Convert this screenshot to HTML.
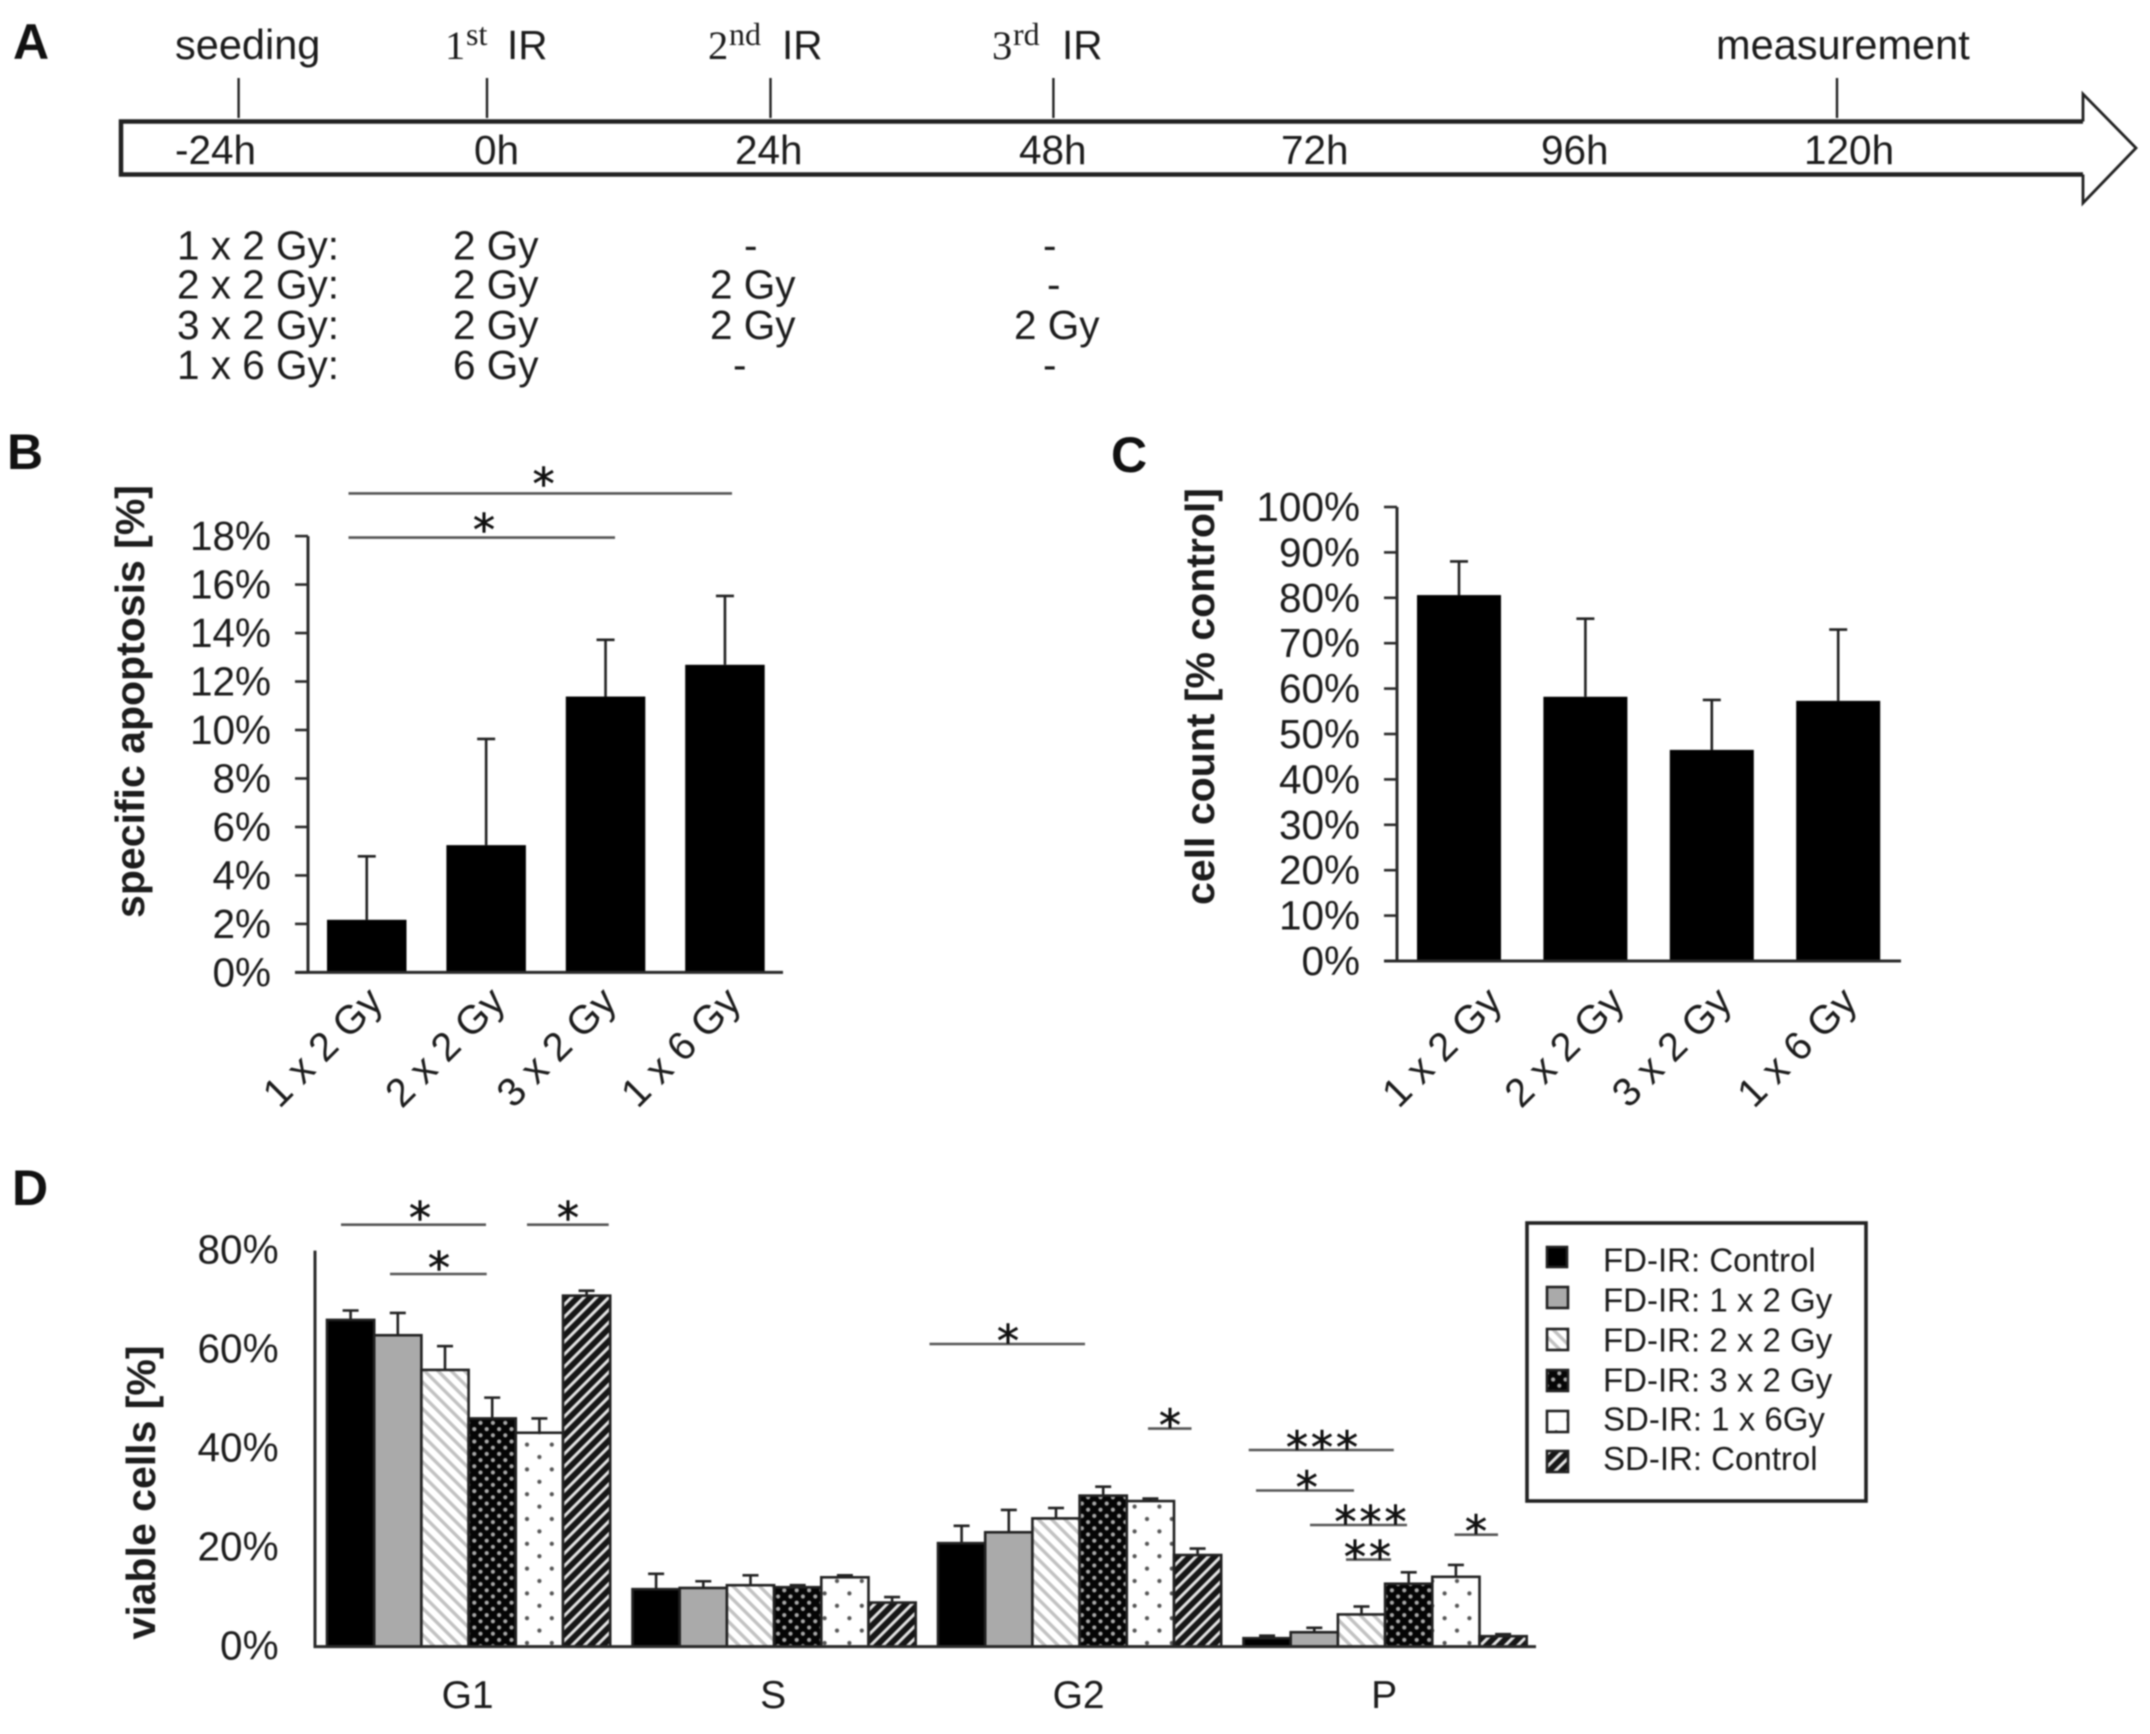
<!DOCTYPE html>
<html lang="en">
<head>
<meta charset="utf-8">
<title>Irradiation schedule and cell response charts</title>
<style>
html,body{margin:0;padding:0;background:#fff;width:2150px;height:1734px;overflow:hidden}
svg{display:block;filter:blur(0.8px)}
text{font-family:"Liberation Sans",sans-serif;fill:#1c1c1c}
.t40{font-size:40.5px}
.panel{font-size:50px;font-weight:bold;fill:#111}
.serif{font-family:"Liberation Serif",serif}
.star{font-family:"DejaVu Sans",sans-serif;font-size:44px;text-anchor:middle;fill:#111;stroke:#111;stroke-width:0.6;transform:translateY(4px)}
.sig{stroke:#555;stroke-width:2.6}
.leg{font-size:33px}
.sw{stroke:#222;stroke-width:2.6}
</style>
</head>
<body>
<svg id="figure" xmlns="http://www.w3.org/2000/svg" width="2150" height="1734" viewBox="0 0 2150 1734">
<defs>
<pattern id="p-light" width="9.4" height="9.4" patternUnits="userSpaceOnUse" patternTransform="rotate(45)"><rect width="9.4" height="9.4" fill="#fff"/><rect width="9.4" height="3.4" fill="#c2c2c2"/></pattern>
<pattern id="p-stripes" width="8.8" height="8.8" patternUnits="userSpaceOnUse" patternTransform="rotate(-45)"><rect width="8.8" height="8.8" fill="#161616"/><rect width="8.8" height="3" fill="#e2e2e2"/></pattern>
<pattern id="p-dots-dark" width="12.4" height="12.4" patternUnits="userSpaceOnUse"><rect width="12.4" height="12.4" fill="#050505"/><circle cx="3.1" cy="3.1" r="2.1" fill="#a8a8a8"/><circle cx="9.3" cy="9.3" r="2.1" fill="#a8a8a8"/></pattern>
<pattern id="p-dots-light" width="24.8" height="24.8" patternUnits="userSpaceOnUse"><rect width="24.8" height="24.8" fill="#fff"/><circle cx="6.2" cy="6.2" r="2.1" fill="#555"/><circle cx="18.6" cy="18.6" r="2.1" fill="#555"/></pattern>
</defs>
<rect width="2150" height="1734" fill="#fff"/>

<!-- Panel A -->
<g>
<text class="panel" x="13" y="59">A</text>
<path d="M2083 121.5V94L2136 148L2083 203V174.5" fill="#fff" stroke="#222" stroke-width="2.8"/>
<path d="M2083 121.5H121V174.5H2083" fill="#fff" stroke="#222" stroke-width="4.5"/>
<g stroke="#222" stroke-width="2.4">
<line x1="238.6" x2="238.6" y1="78" y2="118"/>
<line x1="487" x2="487" y1="78" y2="118"/>
<line x1="770.5" x2="770.5" y1="78" y2="118"/>
<line x1="1053.4" x2="1053.4" y1="78" y2="118"/>
<line x1="1837" x2="1837" y1="78" y2="118"/>
</g>
<g class="t40">
<text x="175" y="59" font-size="41.5">seeding</text>
<text x="445" y="59" class="serif">1</text>
<text x="466" y="45" class="serif" font-size="32">st</text>
<text x="507" y="59">IR</text>
<text x="708" y="59" class="serif">2</text>
<text x="729" y="45" class="serif" font-size="32">nd</text>
<text x="782" y="59">IR</text>
<text x="992" y="59" class="serif">3</text>
<text x="1013" y="45" class="serif" font-size="32">rd</text>
<text x="1062" y="59">IR</text>
<text x="1716" y="59" font-size="41.5">measurement</text>
<text x="175" y="164">-24h</text>
<text x="474" y="164">0h</text>
<text x="735" y="164">24h</text>
<text x="1019" y="164">48h</text>
<text x="1281" y="164">72h</text>
<text x="1541" y="164">96h</text>
<text x="1804" y="164">120h</text>

<text x="177" y="259.5">1 x 2 Gy:</text>
<text x="177" y="298.5">2 x 2 Gy:</text>
<text x="177" y="339">3 x 2 Gy:</text>
<text x="177" y="379">1 x 6 Gy:</text>
<text x="453" y="259.5">2 Gy</text>
<text x="453" y="298.5">2 Gy</text>
<text x="453" y="339">2 Gy</text>
<text x="453" y="379">6 Gy</text>
<text x="744" y="259.5">-</text>
<text x="710" y="298.5">2 Gy</text>
<text x="710" y="339">2 Gy</text>
<text x="733" y="379">-</text>
<text x="1043" y="259.5">-</text>
<text x="1047" y="298.5">-</text>
<text x="1014" y="339">2 Gy</text>
<text x="1043" y="379">-</text>
</g>
</g>

<!-- Panel letters and significance annotations -->
<text class="panel" x="7" y="469">B</text>
<text class="panel" x="1111" y="472">C</text>
<text class="panel" x="12" y="1205">D</text>

<g>
<line class="sig" x1="348.5" x2="732" y1="493.4" y2="493.4"/>
<line class="sig" x1="348.5" x2="615" y1="537.6" y2="537.6"/>
<text class="star" x="543.6" y="495">*</text>
<text class="star" x="484" y="541">*</text>
</g>

<g id="chart-b"></g>
<g id="chart-c"></g>
<g id="chart-d"></g>

<g>
<line class="sig" x1="341" x2="486" y1="1224.7" y2="1224.7"/>
<text class="star" x="420" y="1229">*</text>
<line class="sig" x1="527" x2="608.7" y1="1224.7" y2="1224.7"/>
<text class="star" x="568" y="1229">*</text>
<line class="sig" x1="390" x2="486.7" y1="1274" y2="1274"/>
<text class="star" x="439" y="1279">*</text>
<line class="sig" x1="929.5" x2="1085" y1="1344" y2="1344"/>
<text class="star" x="1008" y="1352">*</text>
<line class="sig" x1="1148" x2="1191.5" y1="1428.6" y2="1428.6"/>
<text class="star" x="1170" y="1436.5">*</text>
<line class="sig" x1="1248.7" x2="1393.8" y1="1450" y2="1450"/>
<text class="star" x="1297" y="1458.5">*</text>
<text class="star" x="1322" y="1458.5">*</text>
<text class="star" x="1347" y="1458.5">*</text>
<line class="sig" x1="1256" x2="1354" y1="1490.5" y2="1490.5"/>
<text class="star" x="1306.7" y="1498.5">*</text>
<line class="sig" x1="1310" x2="1407" y1="1525" y2="1525"/>
<text class="star" x="1345.5" y="1533">*</text>
<text class="star" x="1370.5" y="1533">*</text>
<text class="star" x="1395.5" y="1533">*</text>
<line class="sig" x1="1346" x2="1391" y1="1559.6" y2="1559.6"/>
<text class="star" x="1355" y="1568">*</text>
<text class="star" x="1380" y="1568">*</text>
<line class="sig" x1="1454.5" x2="1498" y1="1534.7" y2="1534.7"/>
<text class="star" x="1476" y="1542.5">*</text>
</g>

<g>
<rect x="1527" y="1223" width="339" height="278" fill="#fff" stroke="#222" stroke-width="3.6"/>
<rect class="sw" x="1547" y="1247" width="20" height="20" fill="#000"/>
<rect class="sw" x="1547" y="1287" width="21" height="21" fill="#aaa"/>
<rect class="sw" x="1547" y="1329" width="21" height="21" fill="url(#p-light)"/>
<rect class="sw" x="1547" y="1370" width="21" height="21" fill="url(#p-dots-dark)"/>
<rect class="sw" x="1547" y="1411" width="21" height="21" fill="url(#p-dots-light)"/>
<rect class="sw" x="1547" y="1451" width="21" height="21" fill="url(#p-stripes)"/>
<text class="leg" x="1603" y="1271.7">FD-IR: Control</text>
<text class="leg" x="1603" y="1311.7">FD-IR: 1 x 2 Gy</text>
<text class="leg" x="1603" y="1351.7">FD-IR: 2 x 2 Gy</text>
<text class="leg" x="1603" y="1391.7">FD-IR: 3 x 2 Gy</text>
<text class="leg" x="1603" y="1430.5">SD-IR: 1 x 6Gy</text>
<text class="leg" x="1603" y="1470">SD-IR: Control</text>
</g>
</svg>

<script>
// Panel B data
const bCategories = ['1 x 2 Gy', '2 x 2 Gy', '3 x 2 Gy', '1 x 6 Gy'];
const bValues = [2.17, 5.25, 11.38, 12.69];
const bErrorTops = [4.79, 9.63, 13.72, 15.53];
const bTicks = [0, 2, 4, 6, 8, 10, 12, 14, 16, 18];

// Panel C data
const cCategories = ['1 x 2 Gy', '2 x 2 Gy', '3 x 2 Gy', '1 x 6 Gy'];
const cValues = [80.6, 58.2, 46.5, 57.3];
const cErrorTops = [88, 75.4, 57.5, 73];
const cTicks = [0, 10, 20, 30, 40, 50, 60, 70, 80, 90, 100];

// Panel D data
const dPhases = ['G1', 'S', 'G2', 'P'];
const dTicks = [0, 20, 40, 60, 80];
const dSeriesNames = ['fd-control', 'fd-1x2', 'fd-2x2', 'fd-3x2', 'sd-1x6', 'sd-control'];
const dFdControl = [66, 11.6, 20.9, 1.7];
const dFd1x2 = [62.9, 11.85, 23.1, 2.9];
const dFd2x2 = [55.9, 12.4, 25.9, 6.5];
const dFd3x2 = [46.1, 12, 30.5, 12.7];
const dSd1x6 = [43.2, 14, 29.4, 14.1];
const dSdControl = [70.9, 8.9, 18.5, 2.1];
const dFdControlErr = [67.9, 14.7, 24.4, 2.2];
const dFd1x2Err = [67.4, 13.2, 27.6, 3.8];
const dFd2x2Err = [60.7, 14.4, 28, 8.1];
const dFd3x2Err = [50.3, 12.4, 32.3, 15];
const dSd1x6Err = [46.1, 14.4, 29.9, 16.5];
const dSdControlErr = [71.9, 10, 19.8, 2.5];

const NS = 'http://www.w3.org/2000/svg';
function mk(parent, tag, attrs, content) {
  const el = document.createElementNS(NS, tag);
  for (const k in attrs) el.setAttribute(k, attrs[k]);
  if (content !== undefined) el.textContent = content;
  parent.appendChild(el);
  return el;
}
function slug(s) {
  return String(s).toLowerCase().replace(/[^a-z0-9]+/g, '-').replace(/^-|-$/g, '');
}

// Axis functions
const yB = v => 972.4 - v * 24.24;
const yC = v => 961 - v * 4.54;
const yD = v => 1646.6 - v * 4.95;
const xB = i => 327 + i * 119.4;
const xC = i => 1417 + i * 126.4;
const xD = (g, s) => 327 + g * 305.5 + s * 47.2;

function axisLine(parent, x1, y1, x2, y2, name) {
  const l = mk(parent, 'line', {x1: x1, y1: y1, x2: x2, y2: y2, stroke: '#2a2a2a', 'stroke-width': 3});
  
  
}
function errorBar(parent, cx, yTop, yBase, capW, sw, name) {
  const s = mk(parent, 'line', {x1: cx, x2: cx, y1: yTop, y2: yBase, stroke: '#222', 'stroke-width': sw});
  
  
  const c = mk(parent, 'line', {x1: cx - capW / 2, x2: cx + capW / 2, y1: yTop, y2: yTop, stroke: '#222', 'stroke-width': sw});
  
  
}

function simpleChart(cfg) {
  const g = document.getElementById(cfg.id);
  cfg.ticks.forEach(t => {
    const tick = mk(g, 'line', {x1: cfg.axisX - 13, x2: cfg.axisX, y1: cfg.y(t), y2: cfg.y(t), stroke: '#2a2a2a', 'stroke-width': 2.6});
    
    
    const lab = mk(g, 'text', {x: cfg.labelX, y: cfg.y(t) + 14, 'text-anchor': 'end', 'font-size': 40.5}, t + '%');
    
    
  });
  cfg.values.forEach((v, i) => {
    const cx = cfg.x(i) + cfg.barW / 2;
    errorBar(g, cx, cfg.y(cfg.errs[i]), cfg.y(v), 18, 2.6, 'error-bar-' + slug(cfg.cats[i]));
    const bar = mk(g, 'rect', {x: cfg.x(i), y: cfg.y(v), width: cfg.barW, height: cfg.y(0) - cfg.y(v), fill: '#000'});
    
    
    const ex = cx + cfg.labelNudge[i];
    const ey = cfg.labelY;
    const lab = mk(g, 'text', {x: ex, y: ey, 'text-anchor': 'end', 'font-size': 40, transform: 'rotate(-45 ' + ex + ' ' + ey + ')'}, cfg.cats[i]);
    
    
  });
  axisLine(g, cfg.axisX, cfg.y(cfg.ticks[cfg.ticks.length - 1]), cfg.axisX, cfg.y(0), 'y-axis');
  axisLine(g, cfg.axisX - 13, cfg.y(0), cfg.axisEnd, cfg.y(0), 'x-axis');
  const tx = cfg.titleX, ty = cfg.titleY;
  const title = mk(g, 'text', {x: tx, y: ty, 'text-anchor': 'middle', 'font-size': 41, 'font-weight': 'bold', transform: 'rotate(-90 ' + tx + ' ' + ty + ')'}, cfg.title);
  
  
}

simpleChart({id: 'chart-b', cats: bCategories, values: bValues, errs: bErrorTops, ticks: bTicks,
  x: xB, y: yB, barW: 79.5, axisX: 308, axisEnd: 783, labelX: 271, labelY: 1004,
  labelNudge: [18, 21, 13, 18], title: 'specific apoptosis [%]', titleX: 144, titleY: 701.5});

simpleChart({id: 'chart-c', cats: cCategories, values: cValues, errs: cErrorTops, ticks: cTicks,
  x: xC, y: yC, barW: 84, axisX: 1397, axisEnd: 1901, labelX: 1360, labelY: 1004,
  labelNudge: [45, 41, 22, 21], title: 'cell count [% control]', titleX: 1214, titleY: 696.5});

(function drawD() {
  const g = document.getElementById('chart-d');
  const seriesValues = [dFdControl, dFd1x2, dFd2x2, dFd3x2, dSd1x6, dSdControl];
  const seriesErrs = [dFdControlErr, dFd1x2Err, dFd2x2Err, dFd3x2Err, dSd1x6Err, dSdControlErr];
  const fills = ['#000', '#aaa', 'url(#p-light)', 'url(#p-dots-dark)', 'url(#p-dots-light)', 'url(#p-stripes)'];
  const barW = 47.2;
  dTicks.forEach(t => {
    const lab = mk(g, 'text', {x: 278.6, y: yD(t) + 13, 'text-anchor': 'end', 'font-size': 40.5}, t + '%');
    
    
  });
  seriesValues.forEach((vals, s) => {
    vals.forEach((v, p) => {
      const x = xD(p, s);
      const name = slug(dPhases[p]) + '-' + dSeriesNames[s];
      errorBar(g, x + barW / 2, yD(seriesErrs[s][p]), yD(v), 16, 2.6, 'error-bar-' + name);
      const bar = mk(g, 'rect', {x: x, y: yD(v), width: barW, height: yD(0) - yD(v), fill: fills[s], stroke: '#222', 'stroke-width': 2.6});
      
      
    });
  });
  dPhases.forEach((ph, p) => {
    const lab = mk(g, 'text', {x: xD(p, 3) - 1, y: 1708, 'text-anchor': 'middle', 'font-size': 39}, ph);
    
    
  });
  axisLine(g, 315, yD(80), 315, yD(0), 'y-axis');
  axisLine(g, 313.5, yD(0), 1536, yD(0), 'x-axis');
  const title = mk(g, 'text', {x: 155, y: 1492.5, 'text-anchor': 'middle', 'font-size': 41, 'font-weight': 'bold', transform: 'rotate(-90 155 1492.5)'}, 'viable cells [%]');
  
  
})();
</script>
</body>
</html>
